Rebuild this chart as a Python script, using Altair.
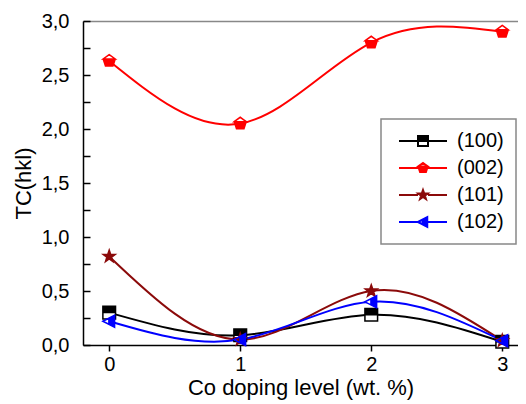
import altair as alt
import pandas as pd
import math

# ---- data ----
doping = [0, 1, 2, 3]
series_names = ["(100)", "(002)", "(101)", "(102)"]
tc_100 = [0.30, 0.09, 0.28, 0.03]
tc_002 = [2.63, 2.05, 2.80, 2.90]
tc_101 = [0.82, 0.05, 0.50, 0.04]
tc_102 = [0.22, 0.05, 0.40, 0.04]
colors = ["#000000", "#ff0000", "#8b0a0a", "#0000ff"]

rows = []
for name, vals in zip(series_names, [tc_100, tc_002, tc_101, tc_102]):
    for x, v in zip(doping, vals):
        rows.append({"dop": x, "tc": v, "series": name})
df = pd.DataFrame(rows)

# ---- marker shapes (unit box -1..1) ----
def star_path(ro=1.0, ri=0.4):
    pts = []
    for i in range(10):
        r = ro if i % 2 == 0 else ri
        a = math.radians(-90 + 36 * i)
        pts.append((r * math.cos(a), r * math.sin(a)))
    return "M" + " L".join(f"{x:.3f},{y:.3f}" for x, y in pts) + " Z"

sq_full = "M-1,-1 L1,-1 L1,1 L-1,1 Z"
sq_half = sq_full + " M-1,0 L-1,1 L1,1 L1,0 Z"
pent_full = "M0,-1 L0.951,-0.309 L0.588,0.809 L-0.588,0.809 L-0.951,-0.309 Z"
pent_half = pent_full + " M0,-1 L-0.951,-0.309 L0.951,-0.309 Z"
star = star_path()
tri_full = "M-1,0 L0.85,-0.95 L0.85,0.95 Z"
tri_half = tri_full + " M-1,0 L-0.05,0.488 L-0.05,-0.488 Z"

full_shapes = [sq_full, pent_full, star, tri_full]
half_shapes = [sq_half, pent_half, star, tri_half]
legend_line = "M-4.8,0 L-1,0 M1,0 L4.8,0 "
legend_shapes = [legend_line + s for s in half_shapes]

xs = alt.Scale(domain=[-0.2, 3.12], nice=False, zero=False)
ys = alt.Scale(domain=[0, 3], nice=False, zero=False)
cs = alt.Scale(domain=series_names, range=colors)

FONT = "Liberation Sans"
base = alt.Chart(df)

lines = base.mark_line(interpolate="natural", strokeWidth=2).encode(
    x=alt.X("dop:Q", scale=xs, axis=alt.Axis(
        values=doping, title="Co doping level (wt. %)", grid=False,
        labelFontSize=20, titleFontSize=22, titleFontWeight="normal",
        tickSize=6, tickWidth=1.5, tickColor="black", domainColor="black",
        domainWidth=1.5, labelPadding=3, titlePadding=3, labelColor="black",
        titleColor="black")),
    y=alt.Y("tc:Q", scale=ys, axis=alt.Axis(
        values=[0, 0.5, 1, 1.5, 2, 2.5, 3], title="TC(hkl)", grid=False,
        labelExpr="replace(format(datum.value, '.1f'), '.', ',')",
        labelFontSize=20, titleFontSize=22, titleFontWeight="normal",
        ticks=False, domainColor="black", domainWidth=1.5, labelPadding=14,
        titlePadding=6, labelColor="black", titleColor="black")),
    color=alt.Color("series:N", scale=cs, legend=None),
)

bg = base.mark_point(filled=True, size=160, opacity=1, color="white").encode(
    x=alt.X("dop:Q", scale=xs, axis=alt.Axis(
        orient="top", labels=False, ticks=False, title=None, grid=False,
        domainColor="#888888", domainWidth=1.5)),
    y=alt.Y("tc:Q", scale=ys, axis=alt.Axis(
        orient="left", offset=-7, labels=False, domain=False, title=None,
        grid=False, values=[i * 0.25 for i in range(13)], tickSize=7,
        tickWidth=1.5, tickColor="black")),
    shape=alt.Shape("series:N", scale=alt.Scale(domain=series_names, range=full_shapes), legend=None),
)

pts = base.mark_point(filled=True, size=160, opacity=1, strokeWidth=1.5).encode(
    x=alt.X("dop:Q", scale=xs, axis=None),
    y=alt.Y("tc:Q", scale=ys, axis=None),
    fill=alt.Fill("series:N", scale=cs, legend=None),
    stroke=alt.Stroke("series:N", scale=cs, legend=None),
    shape=alt.Shape("series:N", scale=alt.Scale(domain=series_names, range=half_shapes), legend=None),
)

leg = base.transform_filter("false").mark_point(filled=True, size=144, opacity=1, strokeWidth=2).encode(
    x=alt.X("dop:Q", scale=xs, axis=None),
    y=alt.Y("tc:Q", scale=ys, axis=None),
    fill=alt.Fill("series:N", scale=cs, legend=alt.Legend(title=None)),
    stroke=alt.Stroke("series:N", scale=cs, legend=alt.Legend(title=None)),
    shape=alt.Shape("series:N", scale=alt.Scale(domain=series_names, range=legend_shapes),
                    legend=alt.Legend(title=None)),
)

chart = alt.layer(lines, bg, pts, leg).resolve_scale(
    shape="independent", fill="independent", stroke="independent", color="independent"
).resolve_axis(x="independent", y="independent").properties(
    width=435, height=324,
    autosize=alt.AutoSizeParams(type="none"),
    padding={"left": 75, "top": 13, "right": 0, "bottom": 56},
).configure_view(stroke=None).configure(font=FONT).configure_legend(
    orient="none", legendX=298, legendY=98, strokeColor="#888888",
    strokeWidth=1.5, padding=12, labelFontSize=20, labelColor="black",
    symbolOffset=20, labelOffset=24, rowPadding=7, fillColor="white",
    symbolStrokeWidth=2,
)

chart.save("out.html", embed_options={"renderer": "svg", "actions": False})
